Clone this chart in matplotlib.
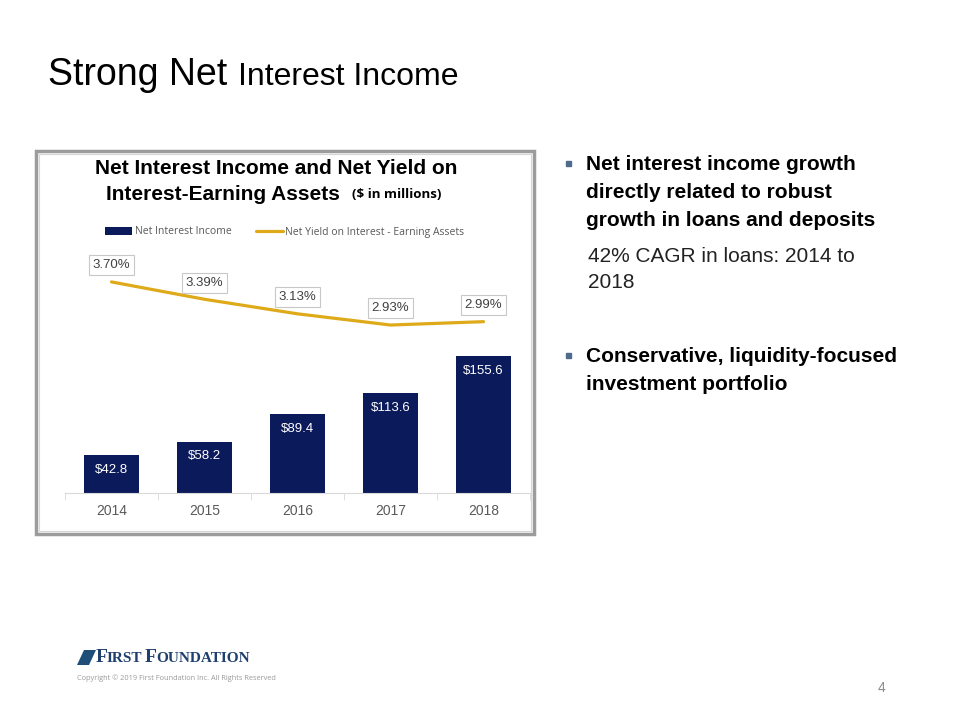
import matplotlib
matplotlib.use("Agg")
import matplotlib.pyplot as plt
from matplotlib.patches import Rectangle, Polygon

plt.rcParams['font.family'] = ['Liberation Sans', 'DejaVu Sans']

# data
years = ["2014", "2015", "2016", "2017", "2018"]
net_interest_income = [42.8, 58.2, 89.4, 113.6, 155.6]
net_yield = [3.70, 3.39, 3.13, 2.93, 2.99]
bar_labels = ["$42.8", "$58.2", "$89.4", "$113.6", "$155.6"]
yield_labels = ["3.70%", "3.39%", "3.13%", "2.93%", "2.99%"]

NAVY = "#0B1A5B"
GOLD = "#DFAA1A"

W, H = 960, 720


def fx(x):
    return x / W


def fy(y):
    return 1 - y / H


fig = plt.figure(figsize=(9.6, 7.2), dpi=100)
fig.patch.set_facecolor("white")

# slide title
fig.text(fx(48), fy(75), "Strong Net", fontsize=27, va="center", ha="left")
fig.text(fx(238), fy(77), "Interest Income", fontsize=23, va="center", ha="left")

# chart frame
fig.patches.append(Rectangle((fx(36), fy(534)), fx(534) - fx(36), fy(151) - fy(534),
                             transform=fig.transFigure, fill=False,
                             edgecolor="#9C9C9C", lw=2.5))
fig.patches.append(Rectangle((fx(39), fy(531)), fx(531) - fx(39), fy(154) - fy(531),
                             transform=fig.transFigure, fill=False,
                             edgecolor="#D6D6D6", lw=0.8))

# chart title
fig.text(fx(276), fy(169), "Net Interest Income and Net Yield on",
         fontsize=15, fontweight="bold", ha="center", va="center")
fig.text(fx(106), fy(194), "Interest-Earning Assets", fontsize=15,
         fontweight="bold", ha="left", va="center")
fig.text(fx(352), fy(195), "($ in millions)", fontsize=9.5, fontweight="bold",
         ha="left", va="center", family=["Open Sans", "DejaVu Sans"])

# axes
ax = fig.add_axes([fx(65), fy(493), fx(530) - fx(65), fy(250) - fy(493)])
x = range(len(years))
bars = ax.bar(x, net_interest_income, width=0.59, color=NAVY, zorder=2,
              label="Net Interest Income")
ax.set_xlim(-0.5, len(years) - 0.5)
ax.set_ylim(0, 276)
for i, v in enumerate(net_interest_income):
    ax.annotate(bar_labels[i], (i, v), xytext=(0, -10.5), textcoords="offset points",
                ha="center", va="center", color="white", fontsize=9.5)

for s in ["top", "left", "right"]:
    ax.spines[s].set_visible(False)
ax.spines["bottom"].set_color("#D9D9D9")
ax.set_yticks([])
ax.set_xticks(list(x))
ax.set_xticklabels(years, color="#595959", fontsize=10)
ax.tick_params(axis="x", which="major", length=0, pad=8)
ax.set_xticks([i - 0.5 for i in range(len(years) + 1)], minor=True)
ax.tick_params(axis="x", which="minor", length=5, color="#D9D9D9")
ax.patch.set_alpha(0)

ax2 = ax.twinx()
line, = ax2.plot(x, net_yield, color=GOLD, lw=2.3, solid_capstyle="round",
                 label="Net Yield on Interest - Earning Assets")
ax2.set_ylim(-0.07, 4.27)
ax2.set_yticks([])
for s in ax2.spines.values():
    s.set_visible(False)
for i, v in enumerate(net_yield):
    ax2.annotate(yield_labels[i], (i, v), xytext=(0, 12), textcoords="offset points",
                 ha="center", va="center", color="#404040", fontsize=9.5,
                 bbox=dict(boxstyle="square,pad=0.3", fc="white", ec="#C8C8C8", lw=0.8))

fig.legend([bars, line], ["Net Interest Income", "Net Yield on Interest - Earning Assets"],
           loc="center", bbox_to_anchor=(fx(285), fy(232)), ncol=2, frameon=False,
           handlelength=2.6, handletextpad=0.2, columnspacing=2.4,
           labelcolor="#595959", prop={"family": ["Open Sans", "DejaVu Sans"], "size": 7.5})

# right-hand bullets
bullet_color = "#4F6B8C"
bold_lines = ["Net interest income growth", "directly related to robust",
              "growth in loans and deposits"]
for k, t in enumerate(bold_lines):
    fig.text(fx(586), fy(165 + 28 * k), t, fontsize=15, fontweight="bold",
             va="center", ha="left")
for by in [163, 355]:
    fig.patches.append(Rectangle((fx(566), fy(by + 3)), 5 / W, 5 / H,
                                 transform=fig.transFigure, color=bullet_color))
fig.text(fx(588), fy(256), "42% CAGR in loans: 2014 to", fontsize=15,
         va="center", ha="left", color="#222222")
fig.text(fx(588), fy(283), "2018", fontsize=15, va="center", ha="left", color="#222222")
fig.text(fx(586), fy(357), "Conservative, liquidity-focused", fontsize=15,
         fontweight="bold", va="center", ha="left")
fig.text(fx(586), fy(385), "investment portfolio", fontsize=15,
         fontweight="bold", va="center", ha="left")

# footer logo
logo = Polygon([(fx(77), fy(665)), (fx(84), fy(650)), (fx(96), fy(650)), (fx(89), fy(665))],
               closed=True, transform=fig.transFigure, facecolor="#1F4E79")
fig.patches.append(logo)
fig.text(fx(96), fy(657), "F", fontsize=14, fontweight="bold", color="#1F3F6E",
         family=["Liberation Serif"], va="center")
fig.text(fx(107), fy(658.5), "IRST", fontsize=11, fontweight="bold", color="#1F3F6E",
         family=["Liberation Serif"], va="center")
fig.text(fx(145), fy(657), "F", fontsize=14, fontweight="bold", color="#1F3F6E",
         family=["Liberation Serif"], va="center")
fig.text(fx(156), fy(658.5), "OUNDATION", fontsize=11, fontweight="bold", color="#1F3F6E",
         family=["Liberation Serif"], va="center")
fig.text(fx(77), fy(678), "Copyright \u00a9 2019 First Foundation Inc. All Rights Reserved",
         fontsize=5.3, color="#9A9A9A", va="center", family=["Open Sans", "DejaVu Sans"])

fig.text(fx(882), fy(688), "4", fontsize=10, color="#8C8C8C", ha="center", va="center")

fig.savefig("out.png", dpi=100)
